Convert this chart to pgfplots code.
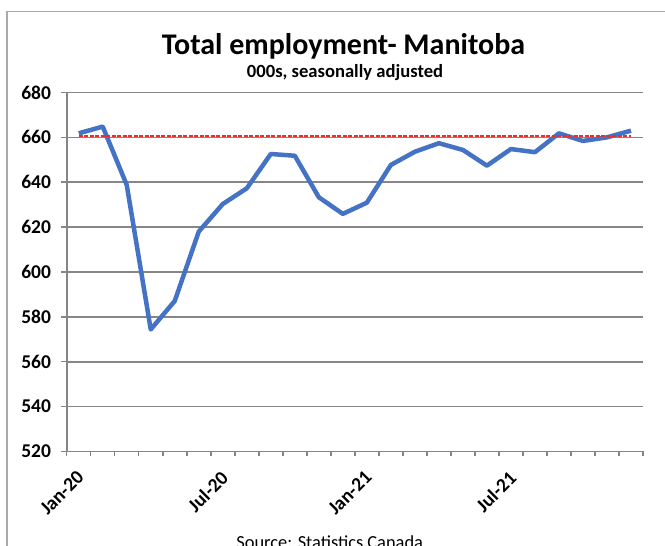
\documentclass[border=0pt]{standalone}
\usepackage{pgfplots}
\pgfplotsset{compat=1.18}
\usepackage{fontspec}
\setmainfont{Carlito}
\definecolor{lineblue}{RGB}{68,114,196}
\definecolor{refred}{RGB}{235,45,45}
\definecolor{gridgray}{RGB}{134,134,134}
\definecolor{framegray}{RGB}{170,170,170}
\begin{document}
\begin{tikzpicture}
\path[use as bounding box] (0pt,0pt) rectangle (665pt,546pt);
\draw[framegray, line width=1.5pt] (7pt,-5pt) -- (7pt,534.3pt) -- (670pt,534.3pt);
\node[anchor=base, inner sep=0pt, font=\fontsize{30}{36}\selectfont\bfseries] at (343.5pt,491pt) {Total employment- Manitoba};
\node[anchor=base, inner sep=0pt, font=\fontsize{18.6}{22}\selectfont\bfseries] at (345pt,468pt) {000s, seasonally adjusted};
\node[anchor=base, inner sep=0pt, font=\fontsize{18.4}{22}\selectfont] at (329.7pt,-3pt) {Source: Statistics Canada};
\begin{axis}[
 at={(66.7pt,94.5pt)}, anchor=south west, scale only axis,
 width=576.3pt, height=359pt,
 xmin=-0.5, xmax=23.5, ymin=520, ymax=680,
 ytick={520,540,...,680},
 xtick={0,6,12,18}, xticklabels={Jan-20,Jul-20,Jan-21,Jul-21},
 minor xtick={-0.5,0.5,...,23.5},
 extra x ticks={-0.5,5.5,11.5,17.5,23.5},
 extra x tick labels={},
 extra x tick style={major tick length=6.5pt, major x tick style={gridgray, line width=1.5pt}},
 axis lines*=left,
 axis line style={gridgray, line width=1.7pt, -},
 tick align=outside,
 major tick length=5.5pt, minor tick length=4.5pt,
 major x tick style={draw=none},
 minor x tick style={gridgray, line width=1.5pt},
 major y tick style={gridgray, line width=1.5pt},
 ymajorgrids,
 major grid style={gridgray, line width=1.7pt},
 /pgf/number format/assume math mode=true,
 /pgf/number format/1000 sep={},
 tick label style={font=\fontsize{19.5}{23}\selectfont\bfseries},
 yticklabel style={anchor=east, inner sep=0pt, xshift=-10pt},
 xticklabel style={xshift=-3pt, yshift=-12.5pt, rotate=45, anchor=north east, inner sep=0pt},
]
\addplot[lineblue, line width=4.5pt, line join=round] coordinates {
(0,661.8) (1,664.8) (2,638.8) (3,574.4) (4,587.1) (5,618.0) (6,630.3) (7,637.3)
(8,652.6) (9,651.8) (10,633.3) (11,625.9) (12,630.9) (13,647.7) (14,653.6) (15,657.4)
(16,654.4) (17,647.4) (18,654.8) (19,653.4) (20,661.8) (21,658.4) (22,660.0) (23,663.0)
};
\addplot[refred, line width=2pt, dash pattern=on 4pt off 1.5pt] coordinates {(0,660.7) (23,660.7)};
\end{axis}
\end{tikzpicture}
\end{document}
